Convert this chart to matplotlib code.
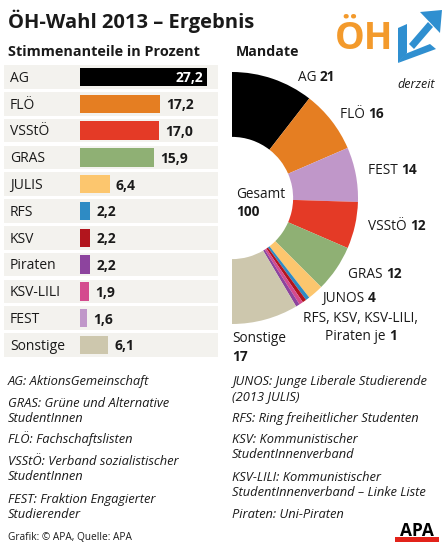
import matplotlib
matplotlib.use("Agg")
import matplotlib.pyplot as plt
from matplotlib.patches import Polygon, Rectangle

plt.rcParams['font.family'] = ['Open Sans', 'DejaVu Sans']

# --- data ---
parties = ['AG', 'FLÖ', 'VSStÖ', 'GRAS', 'JULIS', 'RFS', 'KSV', 'Piraten', 'KSV-LILI', 'FEST', 'Sonstige']
share = [27.2, 17.2, 17.0, 15.9, 6.4, 2.2, 2.2, 2.2, 1.9, 1.6, 6.1]
share_labels = ['27,2', '17,2', '17,0', '15,9', '6,4', '2,2', '2,2', '2,2', '1,9', '1,6', '6,1']
bar_colors = ['#000000', '#e57e22', '#e43a26', '#8fb074', '#fcc66e', '#2e8bc4',
              '#b2151d', '#8d449e', '#d44b8e', '#c097c9', '#cdc7ad']

seat_parties = ['AG', 'FLÖ', 'FEST', 'VSStÖ', 'GRAS', 'JUNOS', 'RFS', 'KSV', 'KSV-LILI', 'Piraten', 'Sonstige']
seats = [21, 16, 14, 12, 12, 4, 1, 1, 1, 1, 17]
seat_colors = ['#000000', '#e57e22', '#c097c9', '#e43a26', '#8fb074', '#fcc66e',
               '#2e8bc4', '#b2151d', '#d44b8e', '#8d449e', '#cdc7ad']

notes_left = ['AG: AktionsGemeinschaft', 'GRAS: Grüne und Alternative\nStudentInnen',
              'FLÖ: Fachschaftslisten', 'VSStÖ: Verband sozialistischer\nStudentInnen',
              'FEST: Fraktion Engagierter\nStudierender']
notes_right = ['JUNOS: Junge Liberale Studierende\n(2013 JULIS)', 'RFS: Ring freiheitlicher Studenten',
               'KSV: Kommunistischer\nStudentInnenverband',
               'KSV-LILI: Kommunistischer\nStudentInnenverband – Linke Liste', 'Piraten: Uni-Piraten']

W, H = 448, 551
fig = plt.figure(figsize=(W / 100, H / 100), dpi=100)
fig.patch.set_facecolor('white')

# full figure overlay in pixel units for text
bg = fig.add_axes([0, 0, 1, 1])
bg.set_xlim(0, W)
bg.set_ylim(H, 0)
bg.axis('off')
renderer = fig.canvas.get_renderer()
TXT = '#1a1a1a'


def rich(x, y, parts, size):
    for s, weight in parts:
        t = bg.text(x, y, s, fontsize=size, fontweight=weight, va='baseline', color=TXT)
        x += t.get_window_extent(renderer).width


# title
bg.text(8, 28, 'ÖH-Wahl 2013 – Ergebnis', fontsize=14.5, fontweight='bold', va='baseline', color=TXT)
bg.text(8, 56, 'Stimmenanteile in Prozent', fontsize=10.4, fontweight='bold', va='baseline', color=TXT)
bg.text(236, 56, 'Mandate', fontsize=10.2, fontweight='bold', va='baseline', color=TXT)

# logo
bg.text(335, 49, 'ÖH', fontsize=27, fontweight='bold', color='#f39a2c', va='baseline')
blue = '#2f8fd0'
bg.add_patch(Polygon([[398, 28], [407, 24], [407, 53], [398, 63]], closed=True,
                     facecolor=blue, edgecolor='none'))
bg.add_patch(Polygon([[398, 63], [405, 54], [430, 44], [436, 49]], closed=True,
                     facecolor=blue, edgecolor='none'))
bg.add_patch(Polygon([[409, 44], [428, 22], [433, 27], [414, 49]], closed=True,
                     facecolor=blue, edgecolor='none'))
bg.add_patch(Polygon([[420, 12], [442, 10], [440, 33]], closed=True,
                     facecolor=blue, edgecolor='none'))
bg.text(397, 88, 'derzeit', fontsize=9, style='italic', va='baseline', color=TXT)

# --- bars ---
px_per_unit = 4.67
left_px, right_px, zero_px = 4, 218, 80
top_px, pitch = 77, 26.8
n = len(parties)
ax = fig.add_axes([left_px / W, 1 - (top_px + pitch * (n - 0.5)) / H,
                   (right_px - left_px) / W, pitch * n / H])
xmin = -(zero_px - left_px) / px_per_unit
xmax = (right_px - zero_px) / px_per_unit
ax.set_xlim(xmin, xmax)
ax.set_ylim(n - 0.5, -0.5)
ax.axis('off')
ys = list(range(n))
ax.barh(ys, [xmax - xmin] * n, left=xmin, height=0.88, color='#f3f2ee')
ax.barh(ys, share, height=0.68, color=bar_colors)
for i, (p, v, lab) in enumerate(zip(parties, share, share_labels)):
    ax.text(xmin + 6 / px_per_unit, i + 0.05, p, fontsize=10, va='center', color=TXT)
    if i == 0:
        ax.text(v - 4 / px_per_unit, i + 0.05, lab, fontsize=10, fontweight='bold',
                va='center', ha='right', color='white')
    else:
        ax.text(v + 6 / px_per_unit, i + 0.05, lab, fontsize=10, fontweight='bold',
                va='center', ha='left', color=TXT)

# --- donut (half ring) ---
cx, cy, r = 232, 198, 126
dax = fig.add_axes([(cx - r) / W, 1 - (cy + r) / H, 2 * r / W, 2 * r / H])
vals = seats + [sum(seats)]
cols = seat_colors + ['none']
dax.pie(vals, colors=cols, startangle=90, counterclock=False, radius=1,
        wedgeprops=dict(width=0.515, edgecolor='none', linewidth=0))
dax.set_xlim(-1, 1)
dax.set_ylim(-1, 1)
dax.set_aspect('equal')
dax.axis('off')

fs = 9.8
rich(298, 81, [('AG ', 'normal'), ('21', 'bold')], fs)
rich(340, 118, [('FLÖ ', 'normal'), ('16', 'bold')], fs)
rich(368, 174, [('FEST ', 'normal'), ('14', 'bold')], fs)
rich(368, 230, [('VSStÖ ', 'normal'), ('12', 'bold')], fs)
rich(348, 278, [('GRAS ', 'normal'), ('12', 'bold')], fs)
rich(322, 302, [('JUNOS ', 'normal'), ('4', 'bold')], fs)
rich(303, 322, [('RFS, KSV, KSV-LILI,', 'normal')], fs)
rich(325, 340, [('Piraten je ', 'normal'), ('1', 'bold')], fs)
rich(232, 342, [('Sonstige', 'normal')], fs)
rich(232, 361, [('17', 'bold')], fs)
rich(236, 198, [('Gesamt', 'normal')], fs)
rich(236, 216, [('100', 'bold')], fs)

# --- footnotes (one text per line, baselines) ---
nfs = 9.3
lh = 15.5
yl = [385, 407, 443, 465, 503]
for y, s in zip(yl, notes_left):
    for k, line in enumerate(s.split('\n')):
        bg.text(8, y + k * lh, line, fontsize=nfs, style='italic', va='baseline', color=TXT)
yr = [385, 422, 443, 481, 518]
for y, s in zip(yr, notes_right):
    for k, line in enumerate(s.split('\n')):
        bg.text(232, y + k * lh, line, fontsize=nfs, style='italic', va='baseline', color=TXT)

bg.text(8, 540, 'Grafik: © APA, Quelle: APA', fontsize=7.3, va='baseline', color=TXT)

# APA logo
bg.text(417, 536, 'APA', fontsize=12.5, fontweight='bold', ha='center', va='baseline', color='black')
bg.add_patch(Rectangle((395, 537), 44, 5, facecolor='#e2231a', edgecolor='none'))

fig.savefig('out.png', dpi=100, facecolor='white')
